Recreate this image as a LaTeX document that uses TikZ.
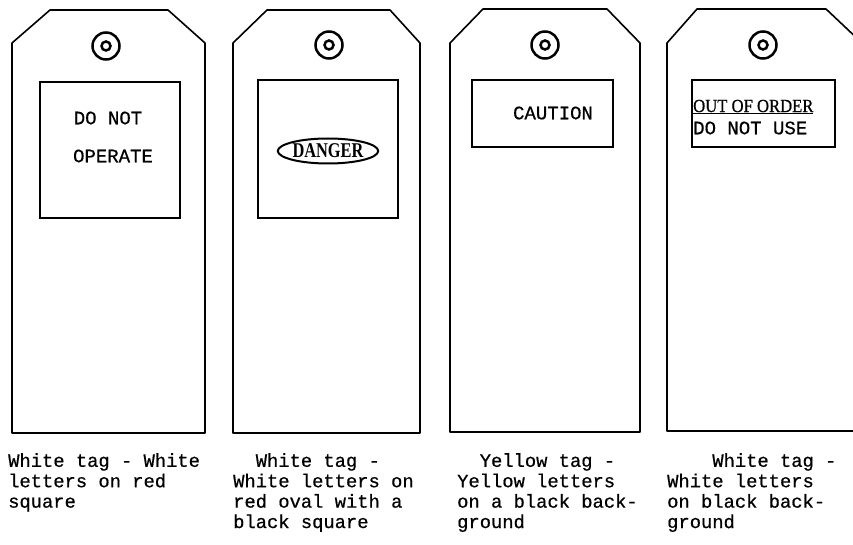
\documentclass[tikz,border=0pt]{standalone}
\usepackage{fontspec}
\setmainfont{Liberation Serif}
\setmonofont{Liberation Mono}[FakeBold=0.6]
\newfontfamily\dangerfont{Liberation Serif Bold}[FakeStretch=0.78]
\newfontfamily\orderfont{Liberation Serif}[FakeStretch=0.9,FakeBold=0.6]
\usetikzlibrary{shapes.geometric}

\begin{document}
\begin{tikzpicture}[
    x=1pt, y=-1pt,
    tag/.style={line width=1.6pt, line join=round},
    label box/.style={line width=1.5pt},
    hole/.style={line width=2.5pt},
    sign/.style={font=\ttfamily\fontsize{19}{22}\selectfont, inner sep=0pt},
    caption/.style={
        anchor=north west,
        align=left,
        inner sep=0pt,
        font=\ttfamily\fontsize{18.8}{20.4}\selectfont
    }
]
\useasboundingbox (0,0) rectangle (853,545);
\clip (0,0) rectangle (853,545);

% tag outlines
\draw[tag] (12,43) -- (50,10) -- (168,10) -- (205,43) -- (205,433) -- (12,433) -- cycle;
\draw[tag] (233,43) -- (267,10) -- (390,10) -- (420,43) -- (420,433) -- (233,433) -- cycle;
\draw[tag] (450,43) -- (483,9) -- (607,9) -- (640,43) -- (640,432) -- (450,432) -- cycle;
\draw[tag] (667,43) -- (697,9) -- (826,9) -- (862,43) -- (862,431) -- (667,431) -- cycle;

% eyelets
\draw[hole] (106,46) circle (13.5) (106,46) circle (4.5);
\draw[hole] (329,45) circle (13.5) (329,45) circle (4.5);
\draw[hole] (545,45) circle (13.5) (545,45) circle (4.5);
\draw[hole] (763,45) circle (13.5) (763,45) circle (4.5);

% label areas
\draw[label box] (40,82) rectangle (180,218);
\draw[label box] (258,80) rectangle (398,218);
\draw[label box] (472,80) rectangle (613,147);
\draw[label box] (692,80) rectangle (835,147);

% sign texts
\node[sign] (donot) at (108,118) {DO NOT};
\node[sign] (operate) at (113,156) {OPERATE};
\node[draw, ellipse, line width=2pt, inner sep=0pt, minimum width=94pt, minimum height=25pt,
    font=\dangerfont\fontsize{21}{24}\selectfont] (danger) at (328,151) {DANGER};
\node[anchor=west, inner sep=0pt, font=\orderfont\fontsize{18.5}{20}\selectfont] (outoforder) at (693,107) {\underline{OUT OF ORDER}};
\node[sign] (caution) at (553,113) {CAUTION};
\node[sign, anchor=west] (donotuse) at (693,128) {DO NOT USE};

% captions
\node[caption] (cap1) at (8,453) {White tag - White\\letters on red\\square};
\node[caption] (cap2) at (233,453) {~~White tag -\\White letters on\\red oval with a\\black square};
\node[caption] (cap3) at (457,453) {~~Yellow tag -\\Yellow letters\\on a black back-\\ground};
\node[caption] (cap4) at (667,453) {~~~~White tag -\\White letters\\on black back-\\ground};
\end{tikzpicture}
\end{document}
